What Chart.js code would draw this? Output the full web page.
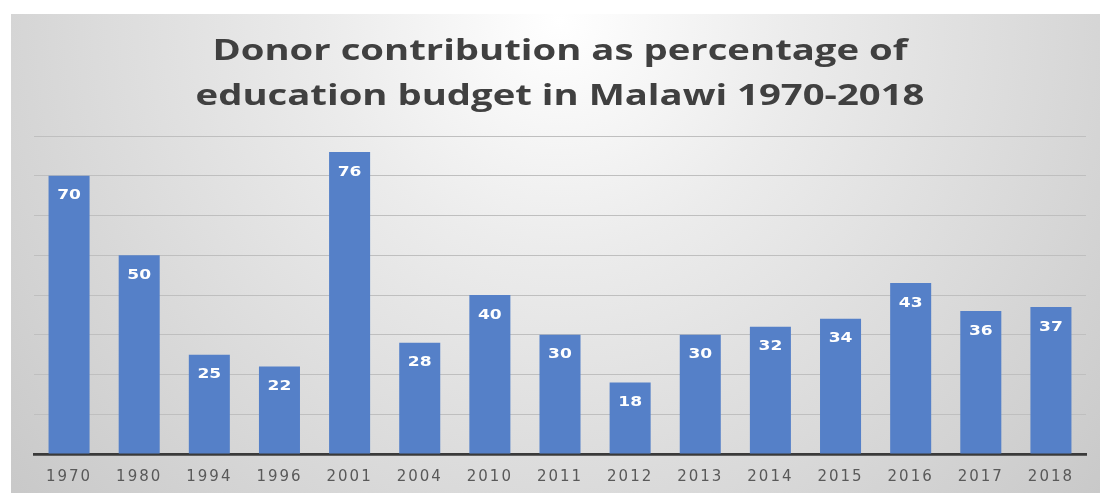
<!DOCTYPE html>
<html>
<head>
<meta charset="utf-8">
<title>Donor contribution as percentage of education budget in Malawi 1970-2018</title>
<script src="https://cdn.jsdelivr.net/npm/chart.js@4.4.1/dist/chart.umd.min.js"></script>
<style>
  html, body { margin: 0; padding: 0; background: #ffffff; }
  #wrap { width: 1100px; height: 493px; position: relative; }
</style>
</head>
<body>
<div id="wrap"><canvas id="chart"></canvas></div>
<script>
// Survey years and donor share of the education budget (%)
const years = ['1970', '1980', '1994', '1996', '2001', '2004', '2010', '2011', '2012', '2013', '2014', '2015', '2016', '2017', '2018'];
const donorShare = [70, 50, 25, 22, 76, 28, 40, 30, 18, 30, 32, 34, 43, 36, 37];
const titleLines = ['Donor contribution as percentage of', 'education budget in Malawi 1970-2018'];

const BAR_BLUE = '#5580c8';

// Soft grey panel with a light glow near the heading
const panelBackground = {
  id: 'panelBackground',
  beforeDraw(chart) {
    const ctx = chart.ctx;
    const w = chart.width, h = chart.height;
    ctx.save();
    ctx.fillStyle = '#ffffff';
    ctx.fillRect(0, 0, w, h);
    const g = ctx.createRadialGradient(560, 20, 0, 560, 20, 760);
    g.addColorStop(0, '#ffffff');
    g.addColorStop(0.3, '#ececec');
    g.addColorStop(1, '#c6c6c6');
    ctx.fillStyle = g;
    ctx.fillRect(11, 14, w - 11, h - 14);
    ctx.restore();
    // wider spacing for the year labels drawn by the x axis
    ctx.letterSpacing = '2px';
  },
  beforeDatasetsDraw(chart) {
    chart.ctx.letterSpacing = '0px';
  }
};

// Two-line heading centred above the plot, set slightly wide
const heading = {
  id: 'heading',
  afterDraw(chart) {
    const ctx = chart.ctx;
    ctx.save();
    ctx.letterSpacing = '0px';
    ctx.fillStyle = '#404040';
    ctx.font = 'bold 29px "Open Sans"';
    ctx.textAlign = 'center';
    ctx.textBaseline = 'middle';
    titleLines.forEach((line, i) => {
      ctx.save();
      ctx.translate(560, 52 + i * 45);
      ctx.scale(1.32, 1);
      ctx.fillText(line, 0, 0);
      ctx.restore();
    });
    ctx.restore();
  }
};

// White value labels just inside the top of each bar
const valueLabels = {
  id: 'valueLabels',
  afterDatasetsDraw(chart) {
    const ctx = chart.ctx;
    const meta = chart.getDatasetMeta(0);
    const values = chart.data.datasets[0].data;
    ctx.save();
    ctx.letterSpacing = '0px';
    ctx.fillStyle = '#ffffff';
    ctx.font = 'bold 14px "DejaVu Sans"';
    ctx.textAlign = 'center';
    ctx.textBaseline = 'middle';
    meta.data.forEach((bar, i) => {
      ctx.save();
      ctx.translate(bar.x, bar.y + 20);
      ctx.scale(1.22, 1);
      ctx.fillText(String(values[i]), 0, 0);
      ctx.restore();
    });
    ctx.restore();
  }
};

new Chart(document.getElementById('chart'), {
  type: 'bar',
  data: {
    labels: years,
    datasets: [{
      data: donorShare,
      backgroundColor: BAR_BLUE,
      borderWidth: 0,
      categoryPercentage: 1,
      barPercentage: 0.585
    }]
  },
  options: {
    responsive: true,
    maintainAspectRatio: false,
    animation: false,
    layout: { padding: { left: 34, right: 14, top: 136, bottom: 8 } },
    plugins: {
      legend: { display: false },
      title: { display: false },
      tooltip: { enabled: false }
    },
    scales: {
      x: {
        grid: { display: false, drawTicks: false },
        border: { display: true, color: '#3a3a3a', width: 2.7 },
        ticks: {
          color: '#595959',
          font: { family: '"DejaVu Sans"', size: 15 },
          padding: 14,
          maxRotation: 0
        },
        afterFit(scale) { scale.height = 31; }
      },
      y: {
        min: 0,
        max: 80,
        ticks: { display: false, stepSize: 10 },
        grid: { color: '#bfbfbf', lineWidth: 1, drawTicks: false },
        border: { display: false }
      }
    }
  },
  plugins: [panelBackground, heading, valueLabels]
});
</script>
</body>
</html>
